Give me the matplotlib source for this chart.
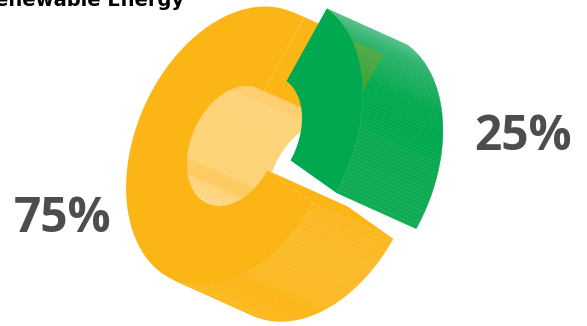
import matplotlib
matplotlib.use("Agg")
import matplotlib.pyplot as plt
import numpy as np
from matplotlib.collections import PolyCollection
from matplotlib.colors import to_rgb
from matplotlib.patches import Polygon

title = "Renewable Energy"
shares = [75, 25]
share_labels = ["75%", "25%"]
front_colors = ["#FBB615", "#00A94F"]

# how the flat ring is projected on to the picture, in pixels
center = np.array([233.0, 146.0])
axis_u = np.array([102.0, 0.0])
axis_v = np.array([32.0, -139.5])
depth = np.array([80.0, 36.0])
hole = 0.43
start_angle = 66.0
explode = np.array([23.0, -10.0])


def ring_point(deg, radius=1.0, shift=(0, 0)):
    t = np.radians(deg)
    return center + np.asarray(shift) + radius * (np.outer(np.cos(t), axis_u) + np.outer(np.sin(t), axis_v))


def shade(stops, deg):
    xs, cs = zip(*sorted(stops))
    rgb = np.array([to_rgb(c) for c in cs])
    return np.column_stack([np.interp(deg, xs, rgb[:, i]) for i in range(3)])


def wall(ax, a0, a1, radius, stops, n, facing, shift=(0, 0), lw=0.2):
    angles = np.linspace(a0, a1, n + 1)
    p = ring_point(angles, radius, shift)
    quads, mids = [], []
    for i in range(n):
        edge = p[i + 1] - p[i]
        # only the quads that face the viewer
        side = np.sign(edge[0] * depth[1] - edge[1] * depth[0]) * np.sign(a1 - a0)
        if side != facing:
            continue
        quads.append([p[i], p[i + 1], p[i + 1] + depth, p[i] + depth])
        mids.append((angles[i] + angles[i + 1]) / 2)
    colors = shade(stops, np.array(mids))
    ax.add_collection(PolyCollection(quads, facecolors=colors, edgecolors=colors, linewidths=lw))


def cut_face(ax, deg, color, shift=(0, 0), alpha=1.0):
    a = ring_point([deg], hole, shift)[0]
    b = ring_point([deg], 1.0, shift)[0]
    return ax.fill([a[0], b[0], b[0] + depth[0], a[0] + depth[0]], [a[1], b[1], b[1] + depth[1], a[1] + depth[1]], color=color, lw=0, alpha=alpha)[0]


def front_face(ax, a0, a1, color, shift=(0, 0)):
    angles = np.linspace(a0, a1, 240)
    outer = ring_point(angles, 1.0, shift)
    inner = ring_point(angles[::-1], hole, shift)
    pts = np.vstack([outer, inner])
    ax.fill(pts[:, 0], pts[:, 1], color=color, lw=0)


fig = plt.figure(figsize=(5.87, 3.26), dpi=100)
ax = fig.add_axes([0, 0, 1, 1])
ax.set_xlim(0, 587)
ax.set_ylim(326, 0)
ax.axis("off")

green_sweep = shares[1] / sum(shares) * 360
green_a0 = start_angle - green_sweep
yellow_a1 = green_a0 + 360

# yellow piece, angles here run past 180 so the lower wall sits near 260-336
yellow_outer = [(250, "#FBB615"), (290, "#FBB615"), (296, "#FBB923"), (320, "#FBBA2A"), (336, "#FBB820"), (66, "#FBB615"), (80, "#FBB615")]
yellow_inner = [(70, "#FDCB60"), (105, "#FDCB60"), (112, "#FDD272"), (190, "#FDD272"), (193, "#FDC95A"), (206, "#FDC95A"), (210, "#FDD272"), (255, "#FDD785")]
wall(ax, start_angle, yellow_a1, 1.0, yellow_outer, 130, 1)
cut_face(ax, start_angle, front_colors[0])
cut_face(ax, green_a0, front_colors[0])
wall(ax, start_angle, yellow_a1, hole, yellow_inner, 130, -1, lw=0.15)
front_face(ax, start_angle, yellow_a1, front_colors[0])

# green piece, pulled out
green_outer = [(-24, "#10AB55"), (0, "#0CA951"), (8, "#00A94F"), (24, "#00A94F"), (30, "#10AC58"), (48, "#2AB26B"), (66, "#55C088")]
wall(ax, green_a0, start_angle, 1.0, green_outer, 62, 1, explode, lw=0.25)
# the yellow cut shows faintly through the green wall only
tint = cut_face(ax, start_angle, "#B8A010", alpha=0.3)
arc = ring_point(np.linspace(green_a0, start_angle, 100), 1.0, explode)
tint.set_clip_path(Polygon(np.vstack([arc, (arc + depth)[::-1]]), transform=ax.transData))
front_face(ax, green_a0, start_angle, front_colors[1], explode)

ax.text(63, 219.5, share_labels[0], fontsize=34.5, fontweight="bold", family="Open Sans", color="#4D4D4D", ha="center", va="center")
ax.text(523, 137.5, share_labels[1], fontsize=34.5, fontweight="bold", family="Open Sans", color="#4D4D4D", ha="center", va="center")
ax.text(184, 6, title, fontsize=14, fontweight="bold", family="DejaVu Sans", color="black", ha="right", va="baseline")

fig.savefig("out.png", dpi=100)
